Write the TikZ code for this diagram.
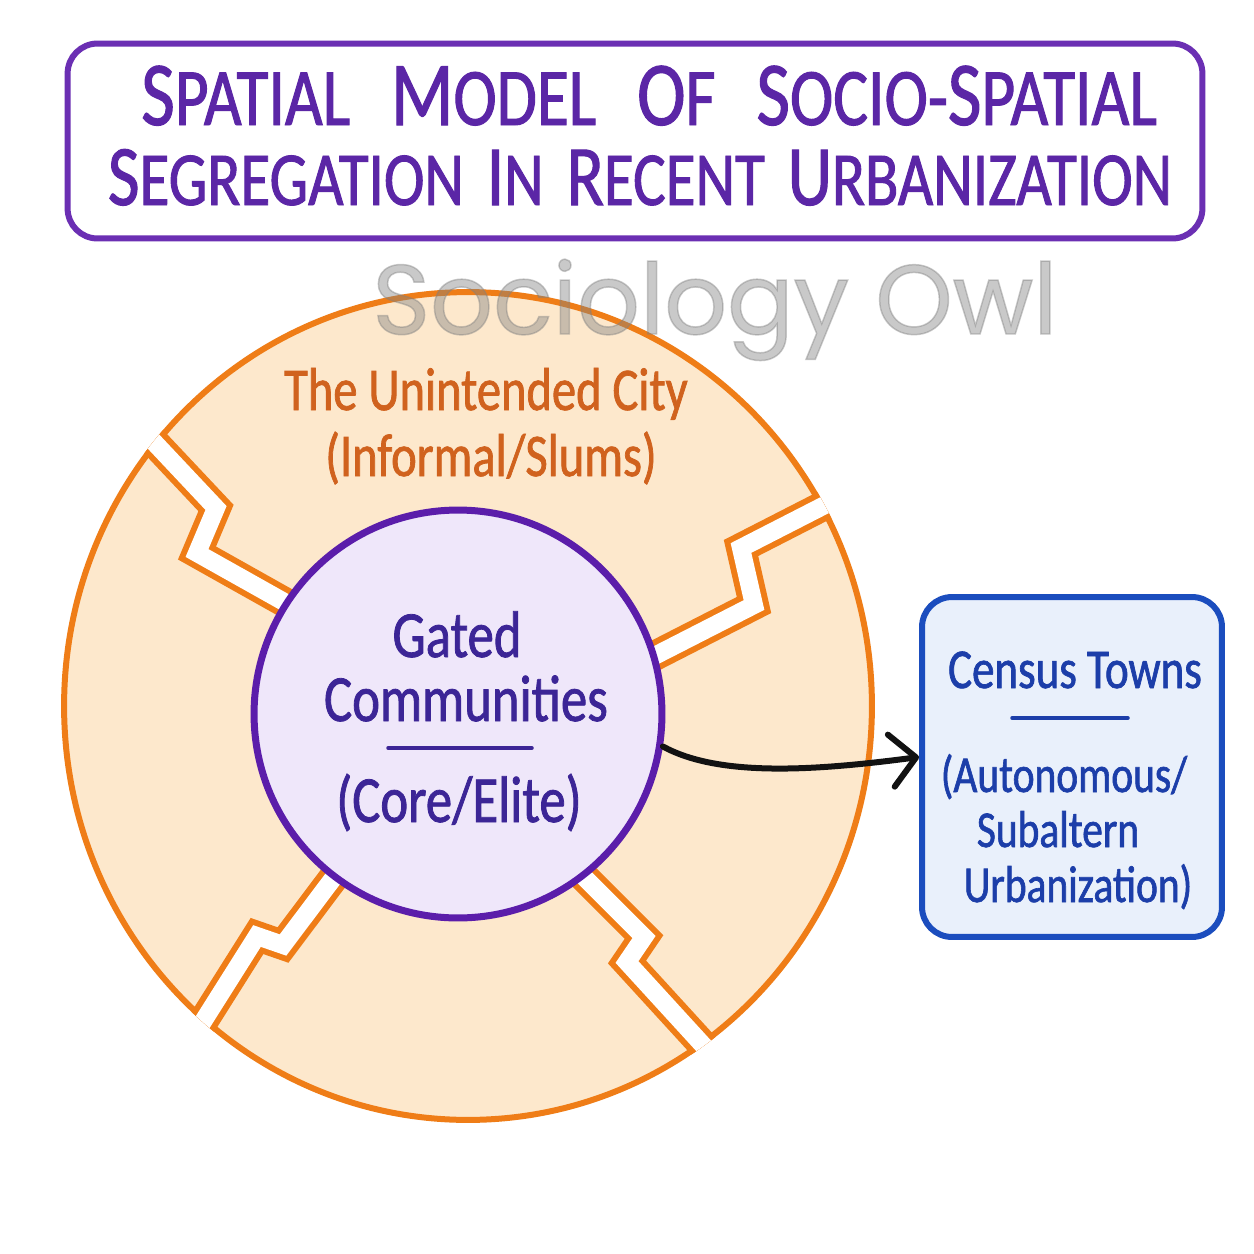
\documentclass[tikz,border=0pt]{standalone}
\usepackage{fontspec}
\usetikzlibrary{arrows.meta}
\newfontfamily\hand[FakeStretch=0.8, FakeBold=1.2]{Carlito}
\newfontfamily\wmfont[FakeBold=1.5]{Poppins}
\newcommand\fsz[1]{\fontsize{#1}{#1}\selectfont}
\newcommand\bigc[1]{{\fontsize{52}{52}\selectfont #1}}
\newcommand\bigd[1]{{\fontsize{49}{49}\selectfont #1}}
\definecolor{ttlborder}{HTML}{6B2FB3}
\definecolor{ttltext}{HTML}{5B26A6}
\definecolor{segorange}{HTML}{EF7D17}
\definecolor{segfill}{HTML}{FDE8CC}
\definecolor{orgtext}{HTML}{D0621E}
\definecolor{corepurple}{HTML}{5B1DAA}
\definecolor{corefill}{HTML}{EFE7FA}
\definecolor{coretext}{HTML}{3C2596}
\definecolor{boxblue}{HTML}{1B4DBE}
\definecolor{boxfill}{HTML}{E9F0FB}
\definecolor{boxtext}{HTML}{1C3EA9}
\tikzset{
  txt/.style={inner sep=0pt, anchor=base},
  titlebox/.style={draw=ttlborder, fill=white, line width=0.12cm, rounded corners=0.6cm,
     minimum width=22.7cm, minimum height=3.9cm, inner sep=0pt},
  ttl/.style={txt, text=ttltext, font={\hand\fsz{46.5}}},
  ttlb/.style={txt, text=ttltext, font={\hand\fsz{43.5}}},
  disk/.style={fill=segfill, draw=segorange, line width=0.12cm},
  gapo/.style={draw=segorange, line width=0.6cm, line join=miter, line cap=butt},
  gapw/.style={draw=white, line width=0.36cm, line join=miter, line cap=butt},
  core/.style={circle, draw=corepurple, fill=corefill, line width=0.14cm,
     minimum size=8.16cm, inner sep=0pt},
  coretxt/.style={txt, text=coretext, font={\hand\fsz{37.5}}},
  coreline/.style={draw=coretext, line width=0.07cm, line cap=round},
  orgtxt/.style={txt, text=orgtext, font={\hand\fsz{34.5}}},
  censusbox/.style={draw=boxblue, fill=boxfill, line width=0.12cm, rounded corners=0.6cm,
     minimum width=6cm, minimum height=6.8cm, inner sep=0pt},
  cttxt/.style={txt, text=boxtext, font={\hand\fsz{32}}},
  cttxtb/.style={txt, text=boxtext, font={\hand\fsz{29.5}}},
  ctline/.style={draw=boxtext, line width=0.07cm, line cap=round},
  link/.style={draw=black!93, line width=0.12cm, line cap=round,
     -{Straight Barb[length=0.5cm, width=1.05cm, line cap=round, line join=round]}},
  wm/.style={txt, text=black!50, opacity=0.42, font={\wmfont\fsz{56}}}
}
\newcommand\gap[1]{\draw[gapo] #1; \draw[gapw] #1;}
\begin{document}
\begin{tikzpicture}[x=0.02cm,y=-0.02cm]
\useasboundingbox (0,0) rectangle (1254,1254);
\fill[white] (0,0) rectangle (1254,1254);

% title
\node[titlebox] (tbox) at (635,141) {};
\node[ttl] (t1) at (649,125) {\bigc{S}PATIAL\hspace{0.5em}\bigc{M}ODEL\hspace{0.5em}\bigc{O}F\hspace{0.5em}\bigc{S}OCIO-\bigc{S}PATIAL};
\node[ttlb] (t2) at (640,205) {\bigd{S}EGREGATION\hspace{0.3em}\bigd{I}N\hspace{0.3em}\bigd{R}ECENT\hspace{0.3em}\bigd{U}RBANIZATION};

% outer ring of four segments
\path[disk] (468,706) ellipse [x radius=8.08cm, y radius=8.28cm];
\begin{scope}
  \clip (468,706) ellipse [x radius=8.14cm, y radius=8.34cm];
  \gap{(327,626) -- (197,553) -- (216,508) -- (136,423)}
  \gap{(578,695) -- (754,605) -- (741,548) -- (864,485)}
  \gap{(532,825) -- (644,937) -- (627,962) -- (734,1079)}
  \gap{(383,812) -- (283,945) -- (257,936) -- (180,1058)}
\end{scope}

% core
\node[core] (core) at (458,714) {};
\node[coretxt] (gated) at (457,657) {Gated};
\node[coretxt] (comm) at (466,721) {Communities};
\draw[coreline] (388,748) -- (532,748);
\node[coretxt] (elite) at (459,822) {(Core/Elite)};

% ring labels
\node[orgtxt] (uc) at (486,410) {The Unintended City};
\node[orgtxt] (inf) at (491,476) {(Informal/Slums)};

% census towns
\node[censusbox] (census) at (1072,767) {};
\node[cttxt] (ct1) at (1075,688) {Census Towns};
\draw[ctline] (1012,718) -- (1128,718);
\node[cttxtb] (ct2) at (1064,792) {(Autonomous/};
\node[cttxtb] (ct3) at (1058,847) {Subaltern};
\node[cttxtb] (ct4) at (1078,902) {Urbanization)};

% arrow
\draw[link] (core.-9) .. controls (720,778) and (820,770) .. ([yshift=0.2cm]census.west);

% watermark
\node[wm] (wmark) at (715,334) {Sociology Owl};
\end{tikzpicture}
\end{document}
